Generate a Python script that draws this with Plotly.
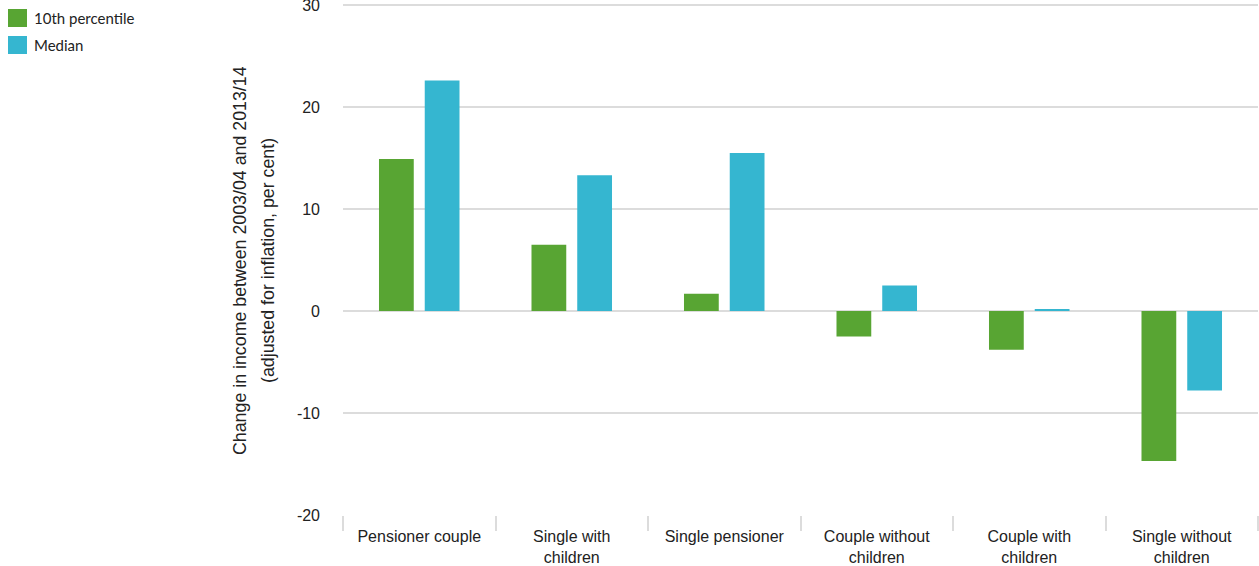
import plotly.graph_objects as go

categories = ["Pensioner couple", "Single with<br>children", "Single pensioner",
              "Couple without<br>children", "Couple with<br>children", "Single without<br>children"]
p10 = [14.9, 6.5, 1.7, -2.5, -3.8, -14.7]
median = [22.6, 13.3, 15.5, 2.5, 0.2, -7.8]
series_names = ["10th percentile", "Median"]
ytick_vals = [-20, -10, 0, 10, 20, 30]
ytick_text = ["-20", "-10", "0", "10", "20", "30"]
title_lines = ["Change in income between 2003/04 and 2013/14", "(adjusted for inflation, per cent)"]
colors = ["#58a533", "#35b6d0"]

fig = go.Figure()
for name, vals, col in zip(series_names, [p10, median], colors):
    fig.add_trace(go.Bar(x=categories, y=vals, name=name, marker_color=col,
                         marker_line_width=0, showlegend=False))

L, T, B = 343, 3, 51
PW, PH = 1259 - L - 1, 566 - T - B
BOT = T + PH


def px_x(p):
    return (p - L) / PW


def px_y(p):
    return (BOT - p) / PH


# manual legend
for i, (name, col) in enumerate(zip(series_names, colors)):
    yc = 18 + 27 * i
    fig.add_shape(type="rect", xref="paper", yref="paper",
                  x0=px_x(8), x1=px_x(27), y0=px_y(yc - 9), y1=px_y(yc + 9),
                  fillcolor=col, line_width=0)
    fig.add_annotation(xref="paper", yref="paper", x=px_x(32), y=px_y(yc),
                       text=name, showarrow=False, xanchor="left", yanchor="middle",
                       font=dict(family="Lato, Noto Sans", size=15, color="#222"))

# y-axis title as two rotated lines
for xc, line in zip([240, 268], title_lines):
    fig.add_annotation(xref="paper", yref="paper", x=px_x(xc), y=px_y(261),
                       text=line, showarrow=False, textangle=-90,
                       xanchor="center", yanchor="middle",
                       font=dict(family="Liberation Sans, Arial", size=17.8, color="#222"))

fig.update_layout(
    width=1259, height=566,
    margin=dict(l=L, r=1, t=T, b=B),
    paper_bgcolor="white", plot_bgcolor="white",
    barmode="group", bargap=0.4, bargroupgap=0.24,
    font=dict(family="Liberation Sans, Arial", color="#222"),
    showlegend=False,
)
fig.update_xaxes(
    automargin=False,
    tickfont=dict(size=16), ticks="outside", tickson="boundaries", ticklen=15,
    tickcolor="#dcdcdc", tickwidth=1.5, showline=False, showgrid=False,
    ticklabelstandoff=10,
)
fig.update_yaxes(
    automargin=False,
    range=[-20, 30.2], tickvals=ytick_vals, ticktext=ytick_text, tickfont=dict(size=16),
    showgrid=True, gridcolor="#dcdcdc", gridwidth=1.5, zeroline=True, zerolinecolor="#dcdcdc",
    zerolinewidth=1.5, ticks="", ticklabelstandoff=22, ticklabeloverflow="allow",
)
fig.write_html("out.html", config={"displayModeBar": False},
               post_script="document.body.style.margin='0';")
